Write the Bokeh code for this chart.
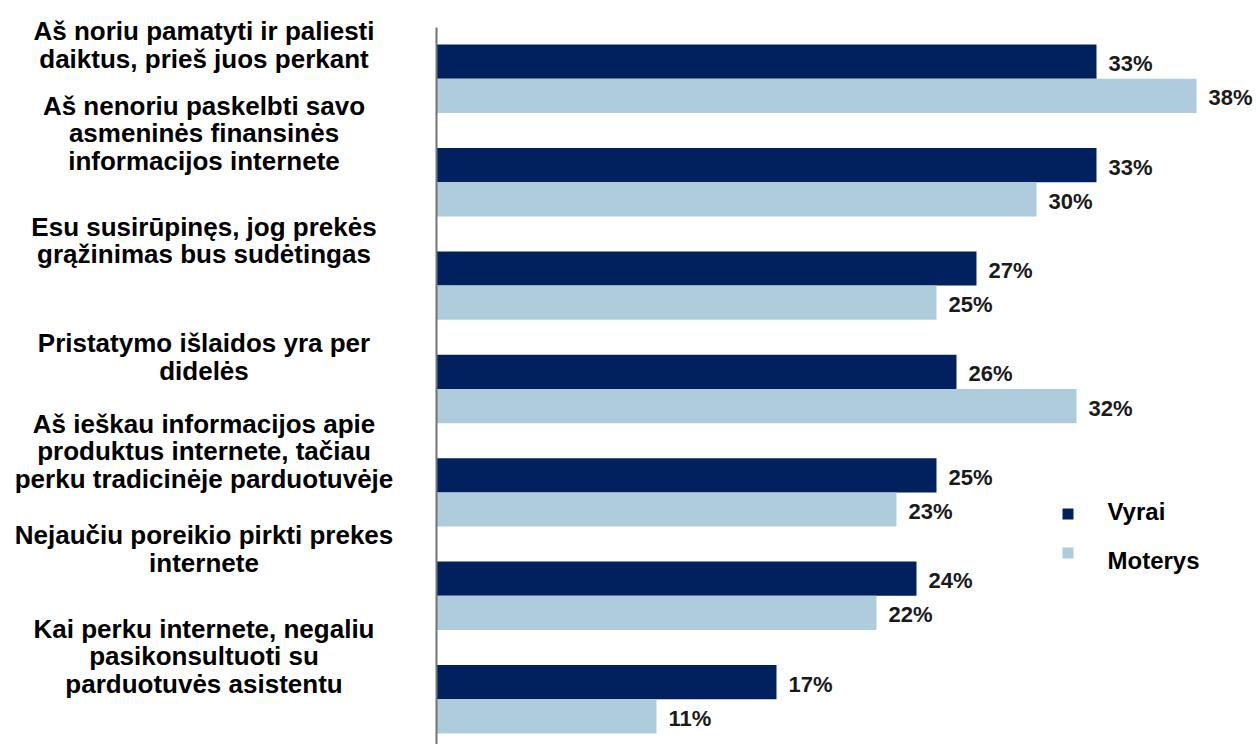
from bokeh.plotting import figure
from bokeh.models import ColumnDataSource, Range1d
from bokeh.core.properties import value
from bokeh.embed import file_html
from bokeh.resources import INLINE

# ---------------- data ----------------
categories = [
    "Aš noriu pamatyti ir paliesti\ndaiktus, prieš juos perkant",
    "Aš nenoriu paskelbti savo\nasmeninės finansinės\ninformacijos internete",
    "Esu susirūpinęs, jog prekės\ngrąžinimas bus sudėtingas",
    "Pristatymo išlaidos yra per\ndidelės",
    "Aš ieškau informacijos apie\nproduktus internete, tačiau\nperku tradicinėje parduotuvėje",
    "Nejaučiu poreikio pirkti prekes\ninternete",
    "Kai perku internete, negaliu\npasikonsultuoti su\nparduotuvės asistentu",
]
vyrai = [33, 33, 27, 26, 25, 24, 17]
moterys = [38, 30, 25, 32, 23, 22, 11]
series = ["Vyrai", "Moterys"]

# ---------------- layout / style ----------------
W, H = 1256, 744
AXIS_X = 436.0        # pixel column of the value axis (0 %)
PX_PER_PCT = 20.0
FIRST_Y = 78.3        # pixel row of first group centre
GROUP_STEP = 103.4    # pixels between groups
BAR_H_PX = 34.2
AXIS_TOP_PX = 27.0
LABEL_CX_PX = 203.5
label_dy_px = [-34, -49, -45, -32, -41, -47, -43]

DARK = "#00215E"
LIGHT = "#AFCCDC"
FONT = value("Liberation Sans")


def dx(px):
    return (px - AXIS_X) / PX_PER_PCT


def dy(py):
    return (py - FIRST_Y) / GROUP_STEP


p = figure(
    width=W, height=H,
    x_range=Range1d(dx(0), dx(W)),
    y_range=Range1d(dy(H), dy(0)),
    x_axis_type=None, y_axis_type=None,
    toolbar_location=None, output_backend="svg",
    min_border=0, outline_line_color=None,
    background_fill_color="white", border_fill_color="white",
)
p.grid.visible = False

n = len(categories)
idx = list(range(n))
bh = BAR_H_PX / GROUP_STEP

src = ColumnDataSource(dict(
    y_v=[i - bh / 2 for i in idx],
    y_m=[i + bh / 2 for i in idx],
    vyrai=vyrai, moterys=moterys,
    t_v=[f"{v}%" for v in vyrai],
    t_m=[f"{v}%" for v in moterys],
))

p.hbar(y="y_v", left=0, right="vyrai", height=bh, source=src,
       fill_color=DARK, line_color=None)
p.hbar(y="y_m", left=0, right="moterys", height=bh, source=src,
       fill_color=LIGHT, line_color=None)

# axis line
p.segment(x0=[0], y0=[dy(AXIS_TOP_PX)], x1=[0], y1=[dy(H + 10)],
          line_color="#737373", line_width=2)

# value labels
for col_x, col_y, col_t in (("vyrai", "y_v", "t_v"), ("moterys", "y_m", "t_m")):
    p.text(x=col_x, y=col_y, text=col_t, source=src,
           x_offset=12, y_offset=2,
           text_align="left", text_baseline="middle",
           text_font=FONT, text_font_style="bold", text_font_size="22px",
           text_color="#1a1a1a")

# category labels
p.text(x=[dx(LABEL_CX_PX)] * n,
       y=[i + d / GROUP_STEP for i, d in zip(idx, label_dy_px)],
       text=categories,
       text_align="center", text_baseline="middle",
       text_font=FONT, text_font_style="bold", text_font_size="26px",
       text_line_height=0.92, text_color="#000000")

# legend
p.scatter(x=[dx(1067.5)] * 2, y=[dy(513.5), dy(552.5)], marker="square",
          size=11, fill_color=[DARK, LIGHT], line_color=None)
p.text(x=[dx(1107)] * 2, y=[dy(510.5), dy(560)], text=series,
       text_align="left", text_baseline="middle",
       text_font=FONT, text_font_style="bold", text_font_size="24px",
       text_color="#000000")

open("out.html", "w").write(file_html(p, INLINE))
